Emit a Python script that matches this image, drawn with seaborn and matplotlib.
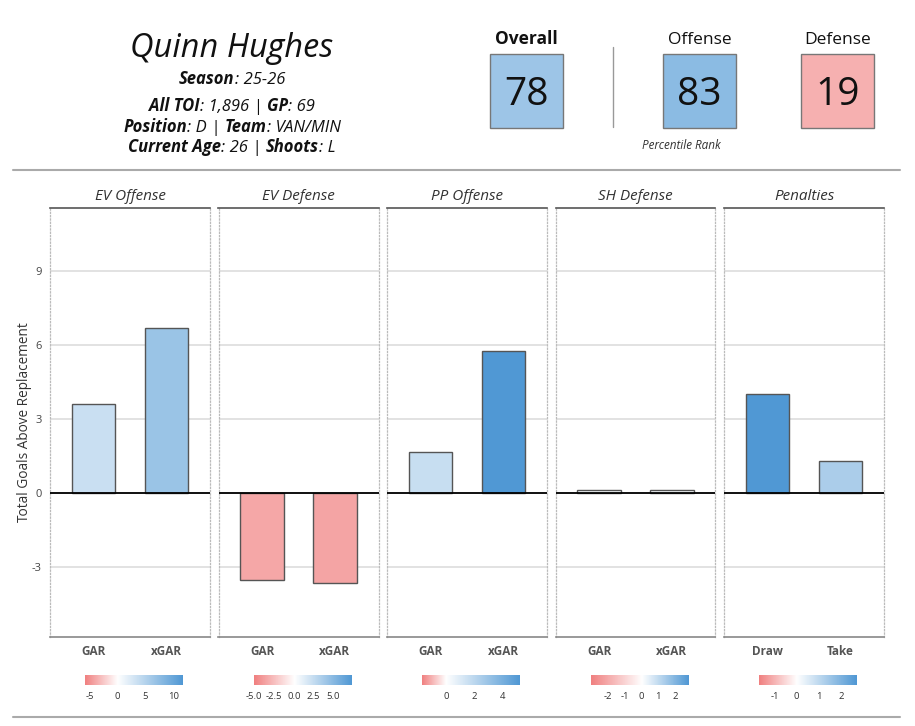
import os
import numpy as np
import pandas as pd
import matplotlib
matplotlib.use("Agg")
import matplotlib.pyplot as plt
import seaborn as sns
from matplotlib import font_manager as fm
from matplotlib.colors import LinearSegmentedColormap, TwoSlopeNorm
from matplotlib.patches import Rectangle
from matplotlib.lines import Line2D

# Player info
player_name = "Quinn Hughes"
season = "25-26"
all_toi = "1,896"
games_played = "69"
position = "D"
team = "VAN/MIN"
current_age = "26"
shoots = "L"

# Percentile ranks
rank_labels = ["Overall", "Offense", "Defense"]
rank_values = [78, 83, 19]

# GAR components (goals above replacement)
panel_names = ["EV Offense", "EV Defense", "PP Offense", "SH Defense", "Penalties"]
panel_cats = [["GAR", "xGAR"], ["GAR", "xGAR"], ["GAR", "xGAR"], ["GAR", "xGAR"], ["Draw", "Take"]]
ev_offense = [3.61, 6.69]
ev_defense = [-3.53, -3.65]
pp_offense = [1.66, 5.76]
sh_defense = [0.12, 0.12]
penalties = [4.01, 1.30]
panel_values = [ev_offense, ev_defense, pp_offense, sh_defense, penalties]

# fill scale limits + legend ticks per panel
fill_limits = [(-5.8, 11.6), (-5.1, 7.2), (-1.7, 5.2), (-3.0, 2.75), (-1.7, 2.7)]
fill_ticks = [[-5, 0, 5, 10], [-5.0, -2.5, 0.0, 2.5, 5.0], [0, 2, 4], [-2, -1, 0, 1, 2], [-1, 0, 1, 2]]
y_ticks = [-3, 0, 3, 6, 9]
y_limits = (-5.84, 11.55)

sns.set_style("white")
plt.rcParams['font.family'] = ['Open Sans', 'DejaVu Sans']
plt.rcParams['axes.unicode_minus'] = False


# prefer the static Open Sans files
def open_sans(fname, style, weight):
    for f in fm.fontManager.ttflist:
        if os.path.basename(f.fname) == fname:
            return fm.FontProperties(fname=f.fname)
    return fm.FontProperties(family=['Open Sans', 'DejaVu Sans'], style=style, weight=weight)


FP = {
    'it': open_sans('OpenSans-Italic.ttf', 'italic', 'normal'),
    'bi': open_sans('OpenSans-BoldItalic.ttf', 'italic', 'bold'),
    'rg': open_sans('OpenSans-Regular.ttf', 'normal', 'normal'),
    'bd': open_sans('OpenSans-Bold.ttf', 'normal', 'bold'),
}


def font(key, size):
    fp = FP[key].copy()
    fp.set_size(size)
    return fp


W, H = 915, 726
fig = plt.figure(figsize=(W / 100, H / 100), dpi=100)
renderer = fig.canvas.get_renderer()

cmap = LinearSegmentedColormap.from_list("gar", ["#F08080", "#FFFFFF", "#5098D4"])


def fx(x):
    return x / W


def fy(y):
    return 1 - y / H


def px_box(x0, y0, w, h):
    return [x0 / W, 1 - (y0 + h) / H, w / W, h / H]


def rich_line(parts, xc, yb, size):
    # centred line built from (text, font key) pieces
    texts = []
    for s, key in parts:
        t = fig.text(0, fy(yb), s, fontproperties=font(key, size),
                     va='baseline', ha='left', color='#111111')
        texts.append(t)
    widths = [t.get_window_extent(renderer).width for t in texts]
    x = xc - sum(widths) / 2
    for t, w in zip(texts, widths):
        t.set_x(fx(x))
        x += w


# ============================================
# HEADER
# ============================================
fig.text(fx(232), fy(57), player_name, fontproperties=font('it', 23.5), ha='center',
         va='baseline', color='#111111')
rich_line([("Season", 'bi'), (": " + season, 'it')], 232, 84, 12)
rich_line([("All TOI", 'bi'), (": " + all_toi + " | ", 'it'),
           ("GP", 'bi'), (": " + games_played, 'it')], 232, 111, 12)
rich_line([("Position", 'bi'), (": " + position + " | ", 'it'),
           ("Team", 'bi'), (": " + team, 'it')], 232, 131.5, 12)
rich_line([("Current Age", 'bi'), (": " + current_age + " | ", 'it'),
           ("Shoots", 'bi'), (": " + shoots, 'it')], 232, 152, 12)

# percentile boxes
rank_norm = TwoSlopeNorm(vcenter=50, vmin=0, vmax=100)
box_left = [490, 663, 801]
for label, val, x0 in zip(rank_labels, rank_values, box_left):
    fig.add_artist(Rectangle((fx(x0), fy(128)), 73 / W, 74 / H, transform=fig.transFigure,
                             facecolor=cmap(rank_norm(val)), edgecolor='#777777', lw=1))
    fig.text(fx(x0 + 36.5), fy(44), label,
             fontproperties=font('bd' if label == "Overall" else 'rg', 12.5),
             ha='center', va='baseline', color='#111111')
    fig.text(fx(x0 + 36.5), fy(105), str(val), fontproperties=font('rg', 28),
             ha='center', va='baseline', color='#111111')
fig.text(fx(681), fy(149), "Percentile Rank", fontproperties=font('it', 8.5),
         ha='center', va='baseline', color='#333333')
fig.add_artist(Line2D([fx(613), fx(613)], [fy(47), fy(127)], color='#999999', lw=1))

# separator lines
fig.add_artist(Line2D([fx(13), fx(900)], [fy(170), fy(170)], color='#AAAAAA', lw=1.5))
fig.add_artist(Line2D([fx(13), fx(900)], [fy(717), fy(717)], color='#AAAAAA', lw=1.5))

# ============================================
# GAR PANELS
# ============================================
panel_w = 160
panel_step = 168.5
for i, (name, cats, vals, lims, cticks) in enumerate(
        zip(panel_names, panel_cats, panel_values, fill_limits, fill_ticks)):
    left = 50 + i * panel_step
    ax = fig.add_axes(px_box(left, 208, panel_w, 429))
    norm = TwoSlopeNorm(vcenter=0, vmin=lims[0], vmax=lims[1])
    df = pd.DataFrame({'cat': cats, 'val': vals})
    pal = {c: cmap(norm(v)) for c, v in zip(cats, vals)}
    sns.barplot(data=df, x='cat', y='val', hue='cat', palette=pal, saturation=1,
                width=0.6, edgecolor='#555555', linewidth=1, legend=False, ax=ax, zorder=2)
    ax.axhline(0, color='black', lw=1.3, zorder=3)
    ax.set_xlim(-0.6, 1.6)
    ax.set_ylim(*y_limits)
    ax.set_yticks(y_ticks)
    ax.yaxis.grid(True, color='#DDDDDD', lw=1.2)
    ax.set_axisbelow(True)
    ax.set_xlabel('')
    ax.set_ylabel('')
    ax.tick_params(axis='both', length=0, pad=6)
    for lab in ax.get_xticklabels():
        lab.set_fontproperties(font('bd', 8.5))
        lab.set_color('#555555')
    if i > 0:
        ax.set_yticklabels([])
    else:
        for lab in ax.get_yticklabels():
            lab.set_fontproperties(font('rg', 8))
            lab.set_color('#444444')
        ax.set_ylabel("Total Goals Above Replacement", fontproperties=font('rg', 9.8),
                      color='#333333', labelpad=0)
    ax.spines['top'].set_color('#555555')
    ax.spines['top'].set_linewidth(1.2)
    ax.spines['bottom'].set_color('#888888')
    ax.spines['bottom'].set_linewidth(1.2)
    for s in ['left', 'right']:
        ax.spines[s].set_color('#BBBBBB')
        ax.spines[s].set_linestyle(':')
        ax.spines[s].set_linewidth(0.9)
    ax.set_title(name, fontproperties=font('it', 11), color='#333333', pad=6)

    # fill legend under each panel
    cax = fig.add_axes(px_box(left + panel_w / 2 - 45, 675, 97.5, 10))
    grad = np.linspace(lims[0], lims[1], 256)
    cax.imshow(grad[None, :], cmap=cmap, norm=norm, aspect='auto',
               extent=(lims[0], lims[1], 0, 1))
    cax.set_xlim(lims[0], lims[1])
    cax.set_yticks([])
    cax.set_xticks(cticks)
    if any(t != int(t) for t in cticks):
        cax.set_xticklabels([f'{t:.1f}' for t in cticks])
    else:
        cax.set_xticklabels([f'{t:g}' for t in cticks])
    for lab in cax.get_xticklabels():
        lab.set_fontproperties(font('rg', 6.8))
        lab.set_color('#333333')
    cax.tick_params(axis='x', length=0, pad=5)
    for s in cax.spines.values():
        s.set_visible(False)

plt.savefig('out.png', dpi=100)
